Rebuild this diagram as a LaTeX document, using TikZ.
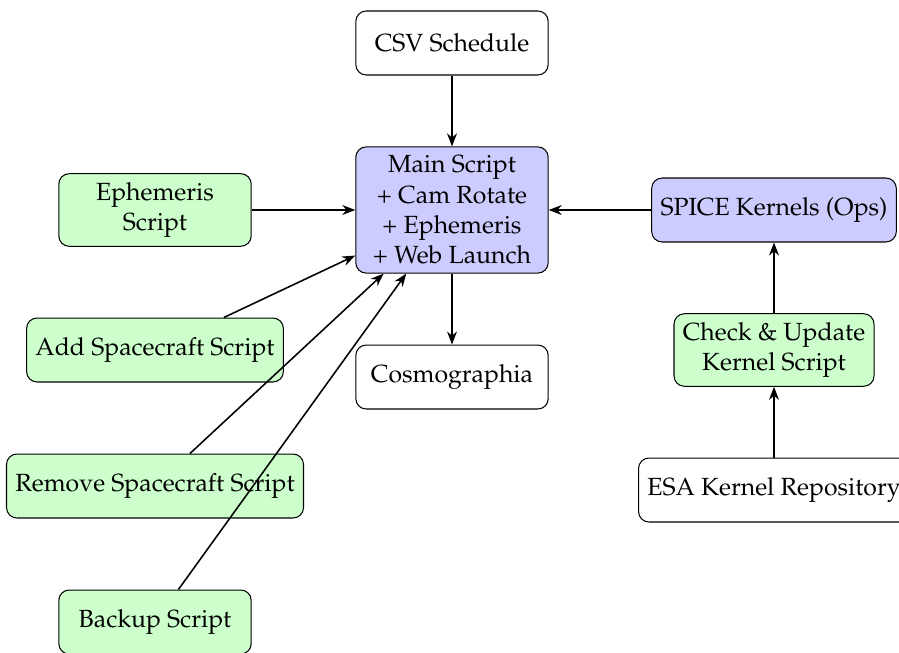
\documentclass[tikz,border=0pt]{standalone}
\usepackage[T1]{fontenc}
\usepackage{mathpazo}
\usetikzlibrary{arrows.meta}
\tikzset{
  box/.style={draw, rounded corners, align=center, minimum width=74pt,
    minimum height=24.6pt, inner xsep=3.4pt, inner ysep=3.3pt,
    font=\fontsize{9.55}{11.7}\selectfont},
  plainbox/.style={box, fill=white},
  scriptbox/.style={box, fill=green!20},
  corebox/.style={box, fill=blue!20},
  link/.style={semithick, -{Stealth[length=5pt,width=3.8pt]}}
}
\begin{document}
\begin{tikzpicture}[x=0.3846pt,y=-0.3846pt]
  \useasboundingbox (0,0) rectangle (899,652);
  \clip (0,0) rectangle (899,652);

  % central column
  \node[plainbox] (csv) at (452,43) {CSV Schedule};
  \node[corebox] (main) at (452,210) {Main Script\\+ Cam Rotate\\+ Ephemeris\\+ Web Launch};
  \node[plainbox] (cosmo) at (452,377) {Cosmographia};

  % helper scripts on the left
  \node[scriptbox] (eph) at (155,210) {Ephemeris\\Script};
  \node[scriptbox] (add) at (155,350) {Add Spacecraft Script};
  \node[scriptbox] (remove) at (155,486) {Remove Spacecraft Script};
  \node[scriptbox] (backup) at (155,622) {Backup Script};

  % kernel chain on the right
  \node[corebox] (spice) at (774,210) {SPICE Kernels (Ops)};
  \node[scriptbox] (check) at (774,350) {Check \& Update\\Kernel Script};
  \node[plainbox] (esa) at (774,490) {ESA Kernel Repository};

  % connectors
  \draw[link] (csv) -- (main);
  \draw[link] (main) -- (cosmo);
  \draw[link] (eph) -- (main);
  \draw[link] (add) -- (main);
  \draw[link] (remove) -- (main);
  \draw[link] (backup) -- (main);
  \draw[link] (spice) -- (main);
  \draw[link] (check) -- (spice);
  \draw[link] (esa) -- (check);
\end{tikzpicture}
\end{document}
